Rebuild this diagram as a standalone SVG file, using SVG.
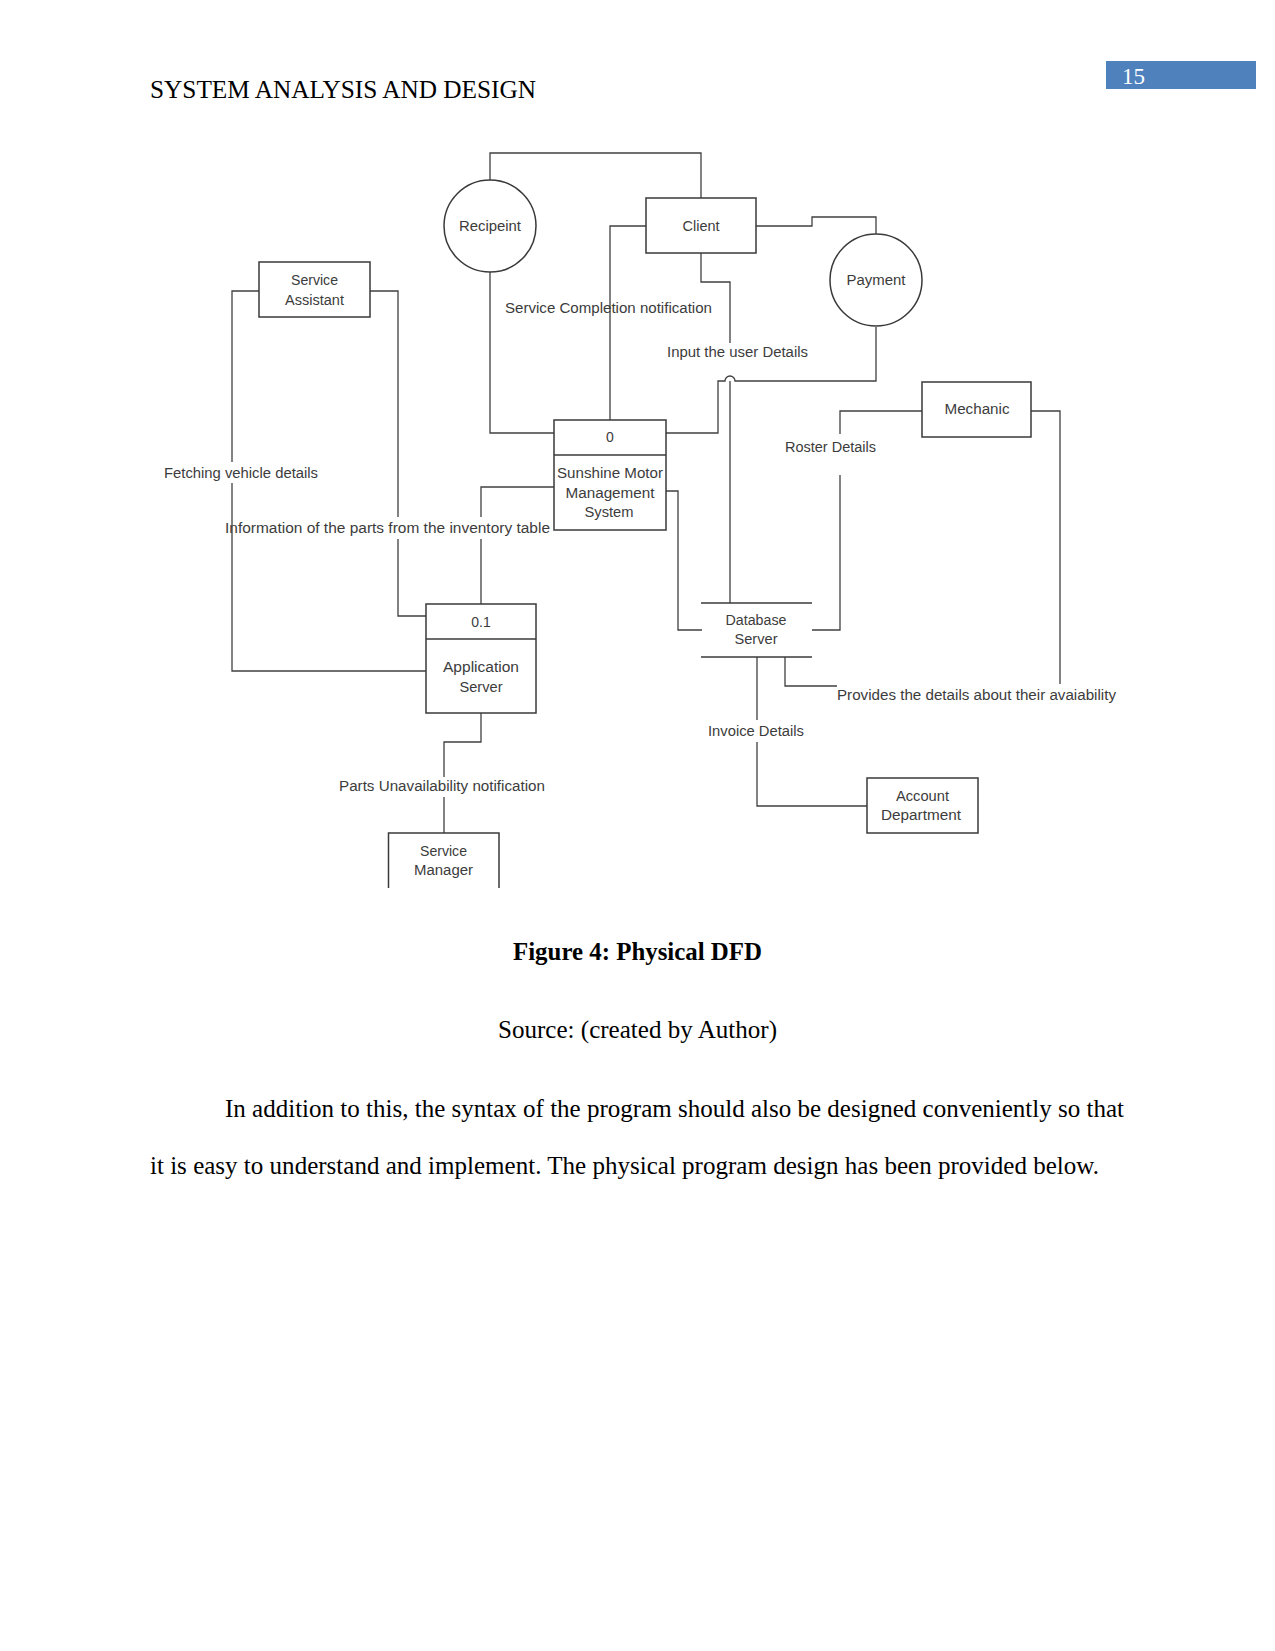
<svg xmlns="http://www.w3.org/2000/svg" width="1275" height="1651" viewBox="0 0 1275 1651">
<style>
.page{font-family:"Liberation Serif","Times New Roman",serif;fill:#000;font-size:25px}
.node rect,.node circle,.node path,.node line{fill:none;stroke:#3a3a3a;stroke-width:1.5}
.node text{font-family:"Liberation Sans",Arial,sans-serif;font-size:14px;fill:#3c3c3c;text-anchor:middle}
.conn path{fill:none;stroke:#404040;stroke-width:1.3}
.lbl rect{fill:#fff;stroke:none}
.lbl text{font-family:"Liberation Sans",Arial,sans-serif;font-size:14px;fill:#3c3c3c}
</style>
<rect x="0" y="0" width="1275" height="1651" fill="#fff"/>
<!-- page header -->
<text class="page" x="150" y="98" textLength="386" lengthAdjust="spacingAndGlyphs">SYSTEM ANALYSIS AND DESIGN</text>
<rect x="1106" y="61" width="150" height="28" fill="#4f81bd"/>
<text class="page" x="1122" y="84" style="fill:#fff;font-size:23px">15</text>

<!-- labels with white background (drawn under some connectors) -->
<g id="labels" class="lbl">
  <rect x="162" y="464" width="158" height="18"/>
  <text x="164" y="478" textLength="154" lengthAdjust="spacingAndGlyphs">Fetching vehicle details</text>
  <rect x="223" y="518" width="329" height="20"/>
  <text x="225" y="533" textLength="325" lengthAdjust="spacingAndGlyphs">Information of the parts from the inventory table</text>
</g>

<g id="connectors" class="conn">
  <path d="M490,180 V153 H701 V198"/>
  <path d="M490,272 V433 H554"/>
  <path d="M646,226 H610 V420"/>
  <path d="M756,226 H812 V217 H876 V234"/>
  <path d="M701,253 V282 H730 V343"/>
  <path d="M730,381 V603"/>
  <path d="M876,327 V381 H735 A5,5 0 0 0 725,381 H718 V433 H666"/>
  <path d="M554,487 H481 V517"/>
  <path d="M481,539 V604"/>
  <path d="M666,491 H678 V630 H702"/>
  <path d="M259,291 H232 V462"/>
  <path d="M232,483 V671 H426"/>
  <path d="M370,291 H398 V517"/>
  <path d="M398,539 V616 H426"/>
  <path d="M922,411 H840 V434"/>
  <path d="M840,475 V630 H812"/>
  <path d="M1031,411 H1060 V684"/>
  <path d="M785,657 V686 H837"/>
  <path d="M757,657 V720"/>
  <path d="M757,742 V806 H867"/>
  <path d="M481,713 V742 H444 V777"/>
  <path d="M444,797 V833"/>
</g>

<g id="flow-labels" class="lbl">
  <text x="505" y="313" textLength="207" lengthAdjust="spacingAndGlyphs">Service Completion notification</text>
  <rect x="664" y="344" width="147" height="18"/>
  <text x="667" y="357" textLength="141" lengthAdjust="spacingAndGlyphs">Input the user Details</text>
  <rect x="782" y="437" width="97" height="20"/>
  <text x="785" y="452" textLength="91" lengthAdjust="spacingAndGlyphs">Roster Details</text>
  <text x="837" y="700" textLength="279" lengthAdjust="spacingAndGlyphs">Provides the details about their avaiability</text>
  <rect x="705" y="722" width="102" height="18"/>
  <text x="708" y="736" textLength="96" lengthAdjust="spacingAndGlyphs">Invoice Details</text>
  <rect x="336" y="779" width="212" height="17"/>
  <text x="339" y="791" textLength="206" lengthAdjust="spacingAndGlyphs">Parts Unavailability notification</text>
</g>

<g id="recipient" class="node">
  <circle cx="490" cy="226" r="46"/>
  <text x="490" y="231" textLength="62" lengthAdjust="spacingAndGlyphs">Recipeint</text>
</g>
<g id="client" class="node">
  <rect x="646" y="198" width="110" height="55"/>
  <text x="701" y="231" textLength="37" lengthAdjust="spacingAndGlyphs">Client</text>
</g>
<g id="payment" class="node">
  <circle cx="876" cy="280" r="46"/>
  <text x="876" y="285" textLength="59" lengthAdjust="spacingAndGlyphs">Payment</text>
</g>
<g id="service-assistant" class="node">
  <rect x="259" y="262" width="111" height="55"/>
  <text x="314.5" y="285" textLength="47" lengthAdjust="spacingAndGlyphs">Service</text>
  <text x="314.5" y="305" textLength="59" lengthAdjust="spacingAndGlyphs">Assistant</text>
</g>
<g id="mechanic" class="node">
  <rect x="922" y="382" width="109" height="55"/>
  <text x="977" y="414" textLength="65" lengthAdjust="spacingAndGlyphs">Mechanic</text>
</g>
<g id="smms" class="node">
  <rect x="554" y="420" width="112" height="110"/>
  <line x1="554" y1="455" x2="666" y2="455"/>
  <text x="610" y="442">0</text>
  <text x="610" y="478" textLength="106" lengthAdjust="spacingAndGlyphs">Sunshine Motor</text>
  <text x="610" y="498" textLength="89" lengthAdjust="spacingAndGlyphs">Management</text>
  <text x="609" y="517" textLength="49" lengthAdjust="spacingAndGlyphs">System</text>
</g>
<g id="application-server" class="node">
  <rect x="426" y="604" width="110" height="109"/>
  <line x1="426" y1="639" x2="536" y2="639"/>
  <text x="481" y="627">0.1</text>
  <text x="481" y="671.5" textLength="76" lengthAdjust="spacingAndGlyphs">Application</text>
  <text x="481" y="691.5" textLength="43" lengthAdjust="spacingAndGlyphs">Server</text>
</g>
<g id="database-server" class="node">
  <line x1="701" y1="603" x2="812" y2="603"/>
  <line x1="701" y1="657" x2="812" y2="657"/>
  <text x="756" y="625" textLength="61" lengthAdjust="spacingAndGlyphs">Database</text>
  <text x="756" y="644" textLength="43" lengthAdjust="spacingAndGlyphs">Server</text>
</g>
<g id="account-department" class="node">
  <rect x="867" y="778" width="111" height="55"/>
  <text x="922.5" y="800.5" textLength="53" lengthAdjust="spacingAndGlyphs">Account</text>
  <text x="921" y="820" textLength="80" lengthAdjust="spacingAndGlyphs">Department</text>
</g>
<g id="service-manager" class="node">
  <path d="M388.5,888 V833 H499 V888"/>
  <text x="443.5" y="856" textLength="47" lengthAdjust="spacingAndGlyphs">Service</text>
  <text x="443.5" y="875" textLength="59" lengthAdjust="spacingAndGlyphs">Manager</text>
</g>

<!-- caption and body -->
<text class="page" x="513" y="960" font-weight="bold" textLength="249" lengthAdjust="spacingAndGlyphs">Figure 4: Physical DFD</text>
<text class="page" x="498" y="1038" textLength="279" lengthAdjust="spacingAndGlyphs">Source: (created by Author)</text>
<text class="page" x="225" y="1117" textLength="899" lengthAdjust="spacingAndGlyphs">In addition to this, the syntax of the program should also be designed conveniently so that</text>
<text class="page" x="150" y="1174" textLength="949" lengthAdjust="spacingAndGlyphs">it is easy to understand and implement. The physical program design has been provided below.</text>
</svg>
